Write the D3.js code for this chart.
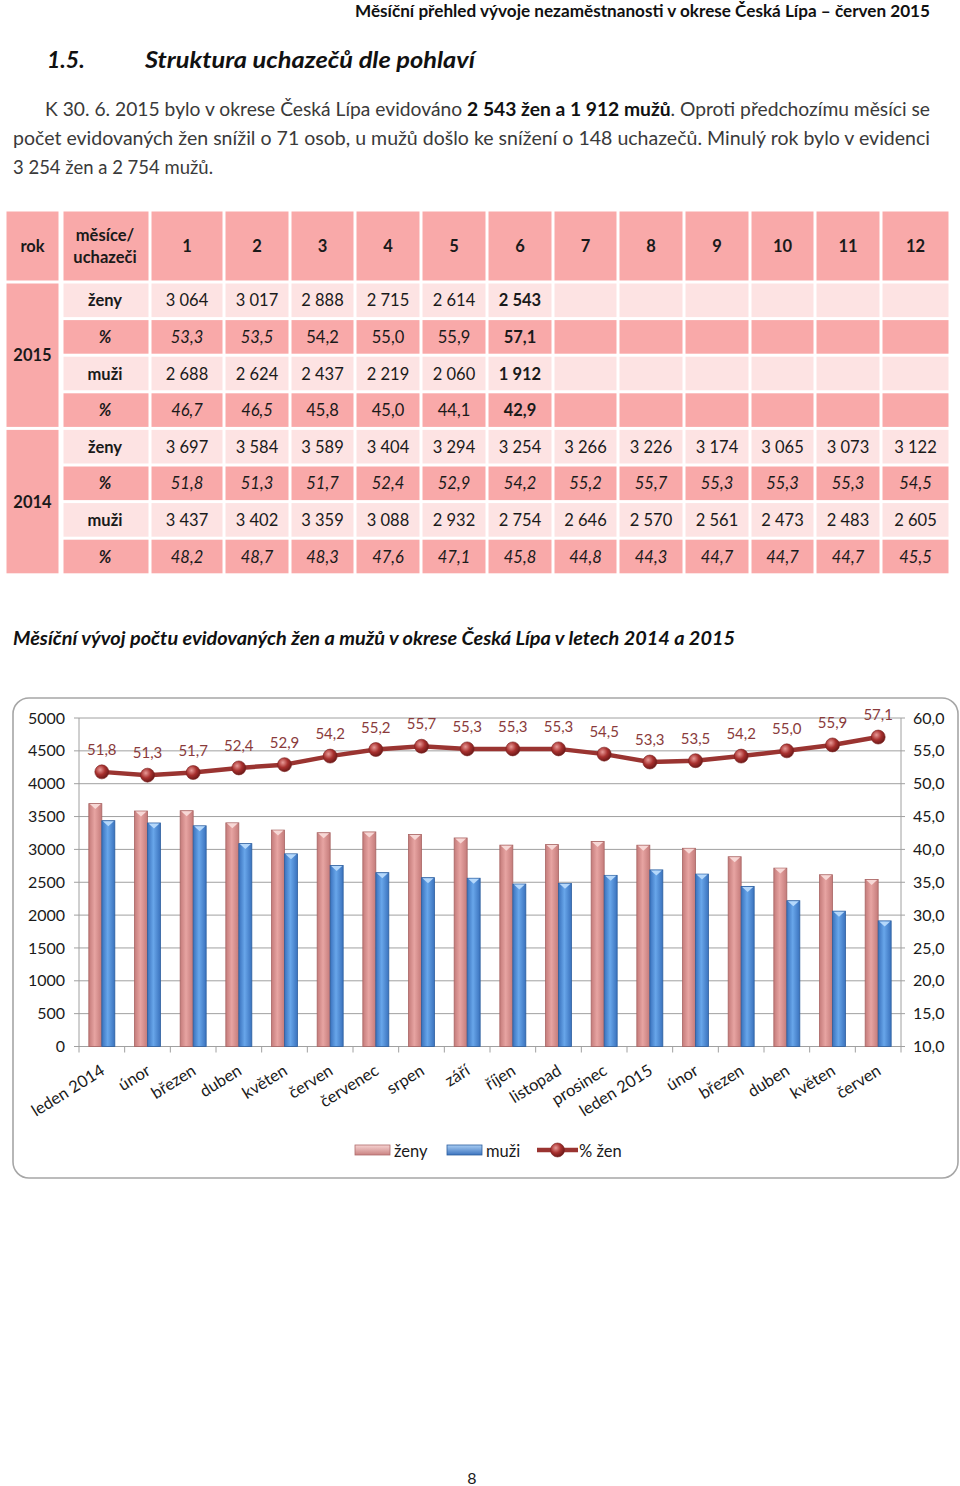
<!DOCTYPE html>
<html><head><meta charset="utf-8">
<script src="https://cdn.jsdelivr.net/npm/d3@7"></script>
<style>body{margin:0;background:#fff}svg{display:block}</style>
</head><body>
<svg id="page" width="960" height="1486"></svg>
<script>
// ---------- DATA ----------
const tableMonths = [1,2,3,4,5,6,7,8,9,10,11,12];
const zeny2015 = [3064,3017,2888,2715,2614,2543];
const pctZeny2015 = [53.3,53.5,54.2,55.0,55.9,57.1];
const muzi2015 = [2688,2624,2437,2219,2060,1912];
const pctMuzi2015 = [46.7,46.5,45.8,45.0,44.1,42.9];
const zeny2014 = [3697,3584,3589,3404,3294,3254,3266,3226,3174,3065,3073,3122];
const pctZeny2014 = [51.8,51.3,51.7,52.4,52.9,54.2,55.2,55.7,55.3,55.3,55.3,54.5];
const muzi2014 = [3437,3402,3359,3088,2932,2754,2646,2570,2561,2473,2483,2605];
const pctMuzi2014 = [48.2,48.7,48.3,47.6,47.1,45.8,44.8,44.3,44.7,44.7,44.7,45.5];
const chartCategories = ["leden 2014","únor","březen","duben","květen","červen","červenec","srpen","září","říjen","listopad","prosinec","leden 2015","únor","březen","duben","květen","červen"];
const leftTicks = [0,500,1000,1500,2000,2500,3000,3500,4000,4500,5000];
const rightTicks = [10,15,20,25,30,35,40,45,50,55,60];
const legendLabels = ["ženy","muži","% žen"];

const chartZeny = zeny2014.concat(zeny2015);
const chartMuzi = muzi2014.concat(muzi2015);
const chartPct = pctZeny2014.concat(pctZeny2015);

// ---------- SETUP ----------
const FONT = "Lato, 'Open Sans', sans-serif";
const loc = d3.formatLocale({decimal:",", thousands:"\u00a0", grouping:[3], currency:["",""]});
const fmtInt = loc.format(",d");
const fmtPct = loc.format(".1f");
const svg = d3.select("#page");
svg.append("rect").attr("width",960).attr("height",1486).attr("fill","#fff");
const defs = svg.append("defs");

function fit(sel, w){ sel.attr("textLength", w).attr("lengthAdjust","spacingAndGlyphs"); return sel; }

// ---------- HEADER ----------
fit(svg.append("text").attr("x",355).attr("y",17).attr("font-family",FONT).attr("font-weight","bold")
  .attr("font-size",17).attr("fill","#111").text("Měsíční přehled vývoje nezaměstnanosti v okrese Česká Lípa – červen 2015"), 575);

svg.append("text").attr("x",47).attr("y",68).attr("font-family",FONT).attr("font-weight","bold").attr("font-style","italic")
  .attr("font-size",23).attr("fill","#111").text("1.5.");
fit(svg.append("text").attr("x",145).attr("y",68).attr("font-family",FONT).attr("font-weight","bold").attr("font-style","italic")
  .attr("font-size",23).attr("fill","#111").text("Struktura uchazečů dle pohlaví"), 330);

const p1 = svg.append("text").attr("x",45).attr("y",116).attr("font-family",FONT).attr("font-size",18.5).attr("fill","#3a3a3a");
p1.append("tspan").text("K 30. 6. 2015 bylo v okrese Česká Lípa evidováno ");
p1.append("tspan").attr("font-weight","bold").attr("fill","#111").text("2 543 žen a 1 912 mužů");
p1.append("tspan").text(". Oproti předchozímu měsíci se");
fit(p1, 885);
fit(svg.append("text").attr("x",13).attr("y",145).attr("font-family",FONT).attr("font-size",18.5).attr("fill","#3a3a3a")
  .text("počet evidovaných žen snížil o 71 osob, u mužů došlo ke snížení o 148 uchazečů. Minulý rok bylo v evidenci"), 917);
fit(svg.append("text").attr("x",13).attr("y",174).attr("font-family",FONT).attr("font-size",18.5).attr("fill","#3a3a3a")
  .text("3 254 žen a 2 754 mužů."), 200);

// ---------- TABLE ----------
const PINK = "#f9a9a9", LIGHT = "#fde3e3";
const colEdges = [5,60,150,224,290,355,421,487,553,618,684,750,815,881,950];
const headTop = 210, headBot = 282, rowH = 36.6;
const gap = 1.5;
const tbl = svg.append("g");
function cell(c0,c1,y0,y1,fill,extraLeft){
  const xl = colEdges[c0]+gap+(extraLeft||0);
  tbl.append("rect").attr("x",xl).attr("y",y0+gap).attr("width",colEdges[c1]-gap-xl)
    .attr("height",y1-y0-2*gap).attr("fill",fill);
}
function ctext(c, y, t, opt){
  opt = opt||{};
  const cx = (colEdges[c]+colEdges[c+1])/2;
  tbl.append("text").attr("x",cx).attr("y",y).attr("text-anchor","middle").attr("font-family",FONT)
    .attr("font-size",opt.size||16.5).attr("font-weight",opt.bold?"bold":"normal").attr("font-style",opt.italic?"italic":"normal")
    .attr("fill","#1a1a1a").text(t);
}
// header row
for (let c=0;c<14;c++) cell(c,c+1,headTop,headBot,PINK,c===1?2:0);
ctext(0,252,"rok",{bold:true});
ctext(1,241,"měsíce/",{bold:true});
ctext(1,263,"uchazeči",{bold:true});
tableMonths.forEach((m,i)=>ctext(i+2,252,String(m),{bold:true}));
// body rows
const rows = [
  {label:"ženy", vals:zeny2015, pct:false, light:true},
  {label:"%", vals:pctZeny2015, pct:true, light:false},
  {label:"muži", vals:muzi2015, pct:false, light:true},
  {label:"%", vals:pctMuzi2015, pct:true, light:false},
  {label:"ženy", vals:zeny2014, pct:false, light:true},
  {label:"%", vals:pctZeny2014, pct:true, light:false},
  {label:"muži", vals:muzi2014, pct:false, light:true},
  {label:"%", vals:pctMuzi2014, pct:true, light:false}
];
// year cells
cell(0,1,headBot,headBot+4*rowH,PINK);
cell(0,1,headBot+4*rowH,headBot+8*rowH,PINK);
ctext(0,headBot+2*rowH+6,"2015",{bold:true});
ctext(0,headBot+6*rowH+6,"2014",{bold:true});
rows.forEach((r,ri)=>{
  const y0 = headBot+ri*rowH, y1 = y0+rowH, ty = y0+rowH/2+6;
  const fill = r.light?LIGHT:PINK;
  for (let c=1;c<14;c++) cell(c,c+1,y0,y1,fill,c===1?2:0);
  ctext(1,ty,r.label,{bold:true,italic:r.pct});
  const is2015 = ri<4;
  r.vals.forEach((v,i)=>{
    const bold = is2015 && i===5;
    const italic = r.pct && !(bold) && (!is2015 || i<2);
    ctext(i+2,ty,r.pct?fmtPct(v):fmtInt(v),{bold:bold,italic:italic});
  });
});

// ---------- CHART TITLE ----------
fit(svg.append("text").attr("x",13).attr("y",645).attr("font-family",FONT).attr("font-weight","bold").attr("font-style","italic")
  .attr("font-size",18.5).attr("fill","#111").text("Měsíční vývoj počtu evidovaných žen a mužů v okrese Česká Lípa v letech 2014 a 2015"), 722);

// ---------- CHART ----------
svg.append("rect").attr("x",13).attr("y",698).attr("width",945).attr("height",480).attr("rx",16)
  .attr("fill","#fff").attr("stroke","#a6a6a6").attr("stroke-width",1.6);

const X0 = 79, X1 = 901, YB = 1046.5, YT = 718;
const x = d3.scaleBand().domain(d3.range(chartCategories.length)).range([X0,X1]);
const yL = d3.scaleLinear().domain([0,5000]).range([YB,YT]);
const yR = d3.scaleLinear().domain([10,60]).range([YB,YT]);
const sub = d3.scaleBand().domain(["z","m"]).range([-13,13]);

// gradients
function hgrad(id, edge, mid){
  const g = defs.append("linearGradient").attr("id",id).attr("x1","0").attr("x2","1").attr("y1","0").attr("y2","0");
  g.append("stop").attr("offset","0%").attr("stop-color",edge);
  g.append("stop").attr("offset","45%").attr("stop-color",mid);
  g.append("stop").attr("offset","100%").attr("stop-color",edge);
}
hgrad("gPink","#c47b7a","#e7a4a2");
hgrad("gBlue","#3a72bd","#68a6ea");
function vgrad(id, top, bot){
  const g = defs.append("linearGradient").attr("id",id).attr("x1","0").attr("x2","0").attr("y1","0").attr("y2","1");
  g.append("stop").attr("offset","0%").attr("stop-color",top);
  g.append("stop").attr("offset","100%").attr("stop-color",bot);
}
vgrad("lPink","#f6d3d2","#c98281");
vgrad("lBlue","#a9cdf3","#3c74bf");
const rg = defs.append("radialGradient").attr("id","gDot").attr("cx","38%").attr("cy","35%").attr("r","65%");
rg.append("stop").attr("offset","0%").attr("stop-color","#e89a97");
rg.append("stop").attr("offset","55%").attr("stop-color","#a8302e");
rg.append("stop").attr("offset","100%").attr("stop-color","#6e1a19");

// gridlines
const grid = svg.append("g");
grid.selectAll("line").data(leftTicks).join("line")
  .attr("x1",X0-5).attr("x2",X1+4).attr("y1",d=>yL(d)).attr("y2",d=>yL(d))
  .attr("stroke","#a0a0a0").attr("stroke-width",1);
// axes lines
svg.append("line").attr("x1",X0).attr("x2",X0).attr("y1",YT).attr("y2",YB).attr("stroke","#a0a0a0");
svg.append("line").attr("x1",X1).attr("x2",X1).attr("y1",YT).attr("y2",YB).attr("stroke","#a0a0a0");

// left axis labels
const axL = d3.axisLeft(yL).tickValues(leftTicks).tickSize(0).tickPadding(14).tickFormat(d3.format("d"));
const gL = svg.append("g").attr("transform",`translate(${X0},0)`).call(axL);
gL.select(".domain").remove();
gL.selectAll("text").attr("font-family",FONT).attr("font-size",16).attr("fill","#1a1a1a");
// right axis labels
const axR = d3.axisRight(yR).tickValues(rightTicks).tickSize(0).tickPadding(12).tickFormat(fmtPct);
const gR = svg.append("g").attr("transform",`translate(${X1},0)`).call(axR);
gR.select(".domain").remove();
gR.selectAll("text").attr("font-family",FONT).attr("font-size",16).attr("fill","#1a1a1a");

// x ticks
const xt = d3.range(chartCategories.length+1).map(i=>X0+i*x.bandwidth());
svg.append("g").selectAll("line").data(xt).join("line")
  .attr("x1",d=>d).attr("x2",d=>d).attr("y1",YB).attr("y2",YB+6).attr("stroke","#a0a0a0");

// bars
function drawBars(vals, key, grad, stroke, capFill){
  const g = svg.append("g");
  const w = sub.bandwidth();
  vals.forEach((v,i)=>{
    const bx = x(i)+x.bandwidth()/2+sub(key);
    const by = yL(v);
    g.append("rect").attr("x",bx).attr("y",by).attr("width",w).attr("height",YB-by)
      .attr("fill",`url(#${grad})`).attr("stroke",stroke).attr("stroke-width",0.8);
    g.append("path").attr("d",`M${bx+1},${by+0.5}L${bx+w-1},${by+0.5}L${bx+w/2},${by+5.5}Z`).attr("fill",capFill);
  });
}
drawBars(chartZeny,"z","gPink","#a86463","#f7d8d6");
drawBars(chartMuzi,"m","gBlue","#2d5f9f","#b5d8fb");

// line
const cx = i=>x(i)+x.bandwidth()/2;
svg.append("path").datum(chartPct)
  .attr("d",d3.line().x((d,i)=>cx(i)).y(d=>yR(d)))
  .attr("fill","none").attr("stroke","#9a3431").attr("stroke-width",4.5).attr("stroke-linejoin","round");
svg.append("g").selectAll("circle").data(chartPct).join("circle")
  .attr("cx",(d,i)=>cx(i)).attr("cy",d=>yR(d)).attr("r",7)
  .attr("fill","url(#gDot)").attr("stroke","#7a2120").attr("stroke-width",0.6);
svg.append("g").selectAll("text").data(chartPct).join("text")
  .attr("x",(d,i)=>cx(i)).attr("y",d=>yR(d)-17).attr("text-anchor","middle")
  .attr("font-family",FONT).attr("font-size",15).attr("fill","#8a3b3b").text(d=>fmtPct(d));

// x labels
svg.append("g").selectAll("text").data(chartCategories).join("text")
  .attr("transform",(d,i)=>`translate(${cx(i)+4},${YB+27}) rotate(-32)`)
  .attr("text-anchor","end").attr("font-family",FONT).attr("font-size",16.5).attr("fill","#1a1a1a").text(d=>d);

// legend
const lg = svg.append("g");
lg.append("rect").attr("x",355).attr("y",1145).attr("width",35).attr("height",10).attr("fill","url(#lPink)").attr("stroke","#b06c6b").attr("stroke-width",0.8);
lg.append("text").attr("x",394).attr("y",1157).attr("font-family",FONT).attr("font-size",16.5).attr("fill","#1a1a1a").text(legendLabels[0]);
lg.append("rect").attr("x",447).attr("y",1145).attr("width",35).attr("height",10).attr("fill","url(#lBlue)").attr("stroke","#2d5f9f").attr("stroke-width",0.8);
lg.append("text").attr("x",486).attr("y",1157).attr("font-family",FONT).attr("font-size",16.5).attr("fill","#1a1a1a").text(legendLabels[1]);
lg.append("line").attr("x1",537).attr("x2",578).attr("y1",1150).attr("y2",1150).attr("stroke","#9a3431").attr("stroke-width",4.5);
lg.append("circle").attr("cx",557.5).attr("cy",1150).attr("r",7).attr("fill","url(#gDot)").attr("stroke","#7a2120").attr("stroke-width",0.6);
lg.append("text").attr("x",579).attr("y",1157).attr("font-family",FONT).attr("font-size",16.5).attr("fill","#1a1a1a").text(legendLabels[2]);

// page number
svg.append("text").attr("x",472).attr("y",1484).attr("text-anchor","middle").attr("font-family",FONT).attr("font-size",16).attr("fill","#1a1a1a").text("8");
</script>
</body></html>
